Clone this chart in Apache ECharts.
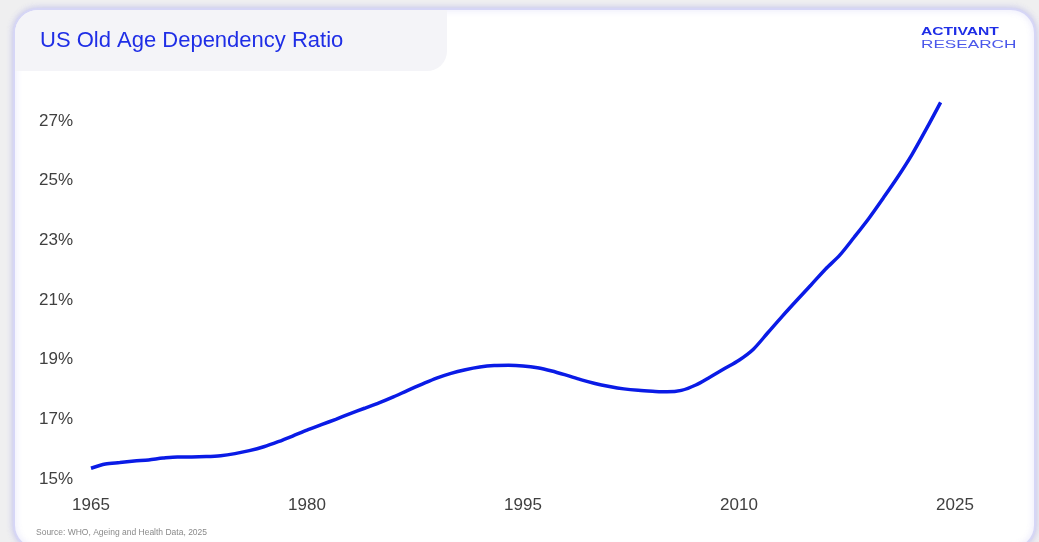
<!DOCTYPE html>
<html>
<head>
<meta charset="utf-8">
<script src="https://cdn.jsdelivr.net/npm/echarts@6/dist/echarts.min.js"></script>
<style>
html,body{margin:0;padding:0;background:#efeff0;}
#c{width:1039px;height:542px;}
</style>
</head>
<body>
<div id="c"></div>
<script>
const years = [];
for (let y = 1965; y <= 2024; y++) years.push(y);
const ratio = [
 15.36,15.50,15.55,15.60,15.64,15.70,15.74,15.74,15.75,15.78,
 15.85,15.95,16.08,16.25,16.44,16.64,16.82,17.00,17.19,17.37,
 17.55,17.75,17.97,18.18,18.38,18.54,18.66,18.75,18.80,18.81,
 18.79,18.73,18.62,18.48,18.33,18.20,18.10,18.02,17.97,17.94,
 17.92,17.97,18.15,18.42,18.70,18.98,19.35,19.90,20.45,20.98,
 21.50,22.03,22.50,23.10,23.72,24.40,25.10,25.86,26.72,27.62
];
const xTicks = [1965, 1980, 1995, 2010, 2025];
const yTicks = [15, 17, 19, 21, 23, 25, 27];

const title = 'US Old Age Dependency Ratio';
const source = 'Source: WHO, Ageing and Health Data, 2025';
const FONT = '"Liberation Sans", Arial, sans-serif';

const chart = echarts.init(document.getElementById('c'), null, {renderer:'canvas'});
chart.setOption({
  animation:false,
  backgroundColor:'#efeff0',
  graphic:[
    {type:'rect', z:-10, shape:{x:14,y:9,width:1021,height:540,r:24},
     style:{fill:'#ffffff', stroke:'#d6d6f6', lineWidth:2, shadowBlur:6, shadowColor:'rgba(120,120,230,0.35)'}},
    {type:'rect', z:-9, shape:{x:15,y:10,width:432,height:61,r:[23,0,20,0]},
     style:{fill:'#f4f4f8'}},
    {type:'text', x:40, y:41, style:{text:title, fill:'#1f2ee6', font:'22px ' + FONT, verticalAlign:'middle'}},
    {type:'text', x:921, y:31.5, scaleX:1.42, style:{text:'ACTIVANT', fill:'#1f2ee6', font:'bold 11px ' + FONT, verticalAlign:'middle'}},
    {type:'text', x:921, y:44.5, scaleX:1.56, style:{text:'RESEARCH', fill:'#4a57ea', font:'11px ' + FONT, verticalAlign:'middle'}},
    {type:'text', x:36, y:533, style:{text:source, fill:'#8a8a8a', font:'8.5px "Liberation Sans Narrow", "Liberation Sans", sans-serif', verticalAlign:'middle'}}
  ],
  grid:{left:91, right:84, top:91, bottom:63, containLabel:false},
  xAxis:{
    type:'value', min:1965, max:2025, interval:15,
    axisLine:{show:false}, axisTick:{show:false}, splitLine:{show:false},
    axisLabel:{color:'#404040', fontSize:17, margin:18, fontFamily:FONT,
      formatter:v => xTicks.includes(v) ? String(v) : ''}
  },
  yAxis:{
    type:'value', min:15, max:28, interval:2,
    axisLine:{show:false}, axisTick:{show:false}, splitLine:{show:false},
    axisLabel:{color:'#404040', fontSize:17, margin:18, showMaxLabel:false, fontFamily:FONT,
      formatter:v => yTicks.includes(v) ? v + '%' : ''}
  },
  series:[{
    type:'line',
    data: years.map((y,i)=>[y, ratio[i]]),
    smooth:0.3,
    showSymbol:false,
    lineStyle:{color:'#0a1be6', width:3.5}
  }]
});
</script>
</body>
</html>
